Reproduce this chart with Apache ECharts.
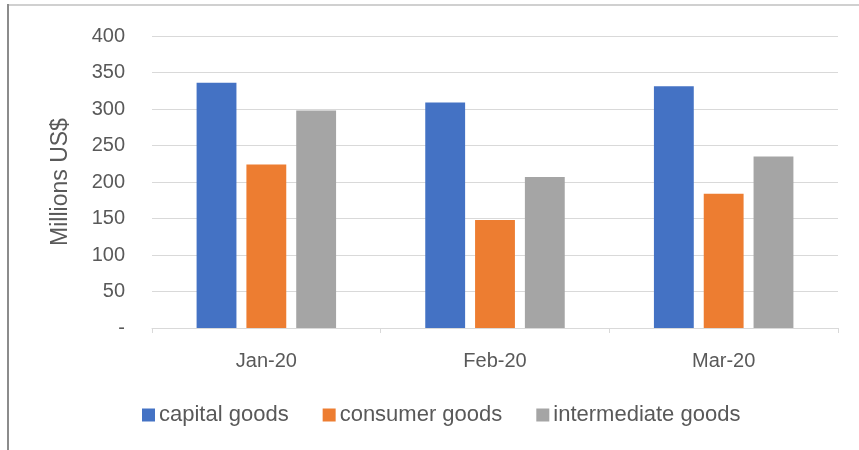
<!DOCTYPE html>
<html>
<head>
<meta charset="utf-8">
<script src="https://cdn.jsdelivr.net/npm/echarts@6/dist/echarts.min.js"></script>
<style>
  html, body { margin: 0; padding: 0; background: #fff; }
  #chart { width: 859px; height: 450px; }
</style>
</head>
<body>
<div id="chart"></div>
<script>
// Monthly imports by goods category (millions US$)
const months = ['Jan-20', 'Feb-20', 'Mar-20'];
const capitalGoods = [336, 309, 331];
const consumerGoods = [224, 148, 184];
const intermediateGoods = [298, 207, 235];

const seriesNames = ['capital goods', 'consumer goods', 'intermediate goods'];
const seriesColors = ['#4472C4', '#ED7D31', '#A5A5A5'];
const seriesData = [capitalGoods, consumerGoods, intermediateGoods];

const textColor = '#595959';
const fontFamily = '"Liberation Sans", Arial, sans-serif';

const chart = echarts.init(document.getElementById('chart'), null, { renderer: 'canvas' });

chart.setOption({
  backgroundColor: '#fff',
  animation: false,
  textStyle: { fontFamily: fontFamily, color: textColor },
  grid: { left: 152, right: 21, top: 36, bottom: 122 },
  legend: {
    data: seriesNames,
    left: 137,
    top: 399,
    itemWidth: 13,
    itemHeight: 13,
    itemGap: 34,
    icon: 'rect',
    textStyle: { fontSize: 22, color: textColor, fontFamily: fontFamily, padding: [0, 0, 0, -1] }
  },
  xAxis: {
    type: 'category',
    data: months,
    axisLine: { show: true, lineStyle: { color: '#d9d9d9', width: 1 } },
    axisTick: { show: true, length: 5, lineStyle: { color: '#d9d9d9' } },
    axisLabel: { fontSize: 20, color: textColor, margin: 23, fontFamily: fontFamily },
    splitLine: { show: false }
  },
  yAxis: {
    type: 'value',
    min: 0,
    max: 400,
    interval: 50,
    name: 'Millions US$',
    nameLocation: 'middle',
    nameGap: 80,
    nameTextStyle: { fontSize: 23, color: textColor, fontFamily: fontFamily },
    axisLine: { show: false },
    axisTick: { show: false },
    axisLabel: {
      fontSize: 20,
      color: textColor,
      margin: 27,
      fontFamily: fontFamily,
      formatter: v => (v === 0 ? '-' : String(v))
    },
    splitLine: { lineStyle: { color: '#d9d9d9', width: 1 } }
  },
  series: seriesNames.map((name, i) => ({
    name: name,
    type: 'bar',
    data: seriesData[i],
    barGap: '25%',
    barCategoryGap: '39%',
    itemStyle: { color: seriesColors[i] }
  })),
  graphic: [
    {
      type: 'line',
      shape: { x1: 7, y1: 5, x2: 859, y2: 5 },
      style: { stroke: '#d0d0d0', lineWidth: 2 }
    },
    {
      type: 'line',
      shape: { x1: 8, y1: 4, x2: 8, y2: 450 },
      style: { stroke: '#8c8c8c', lineWidth: 2 }
    }
  ]
});
</script>
</body>
</html>
